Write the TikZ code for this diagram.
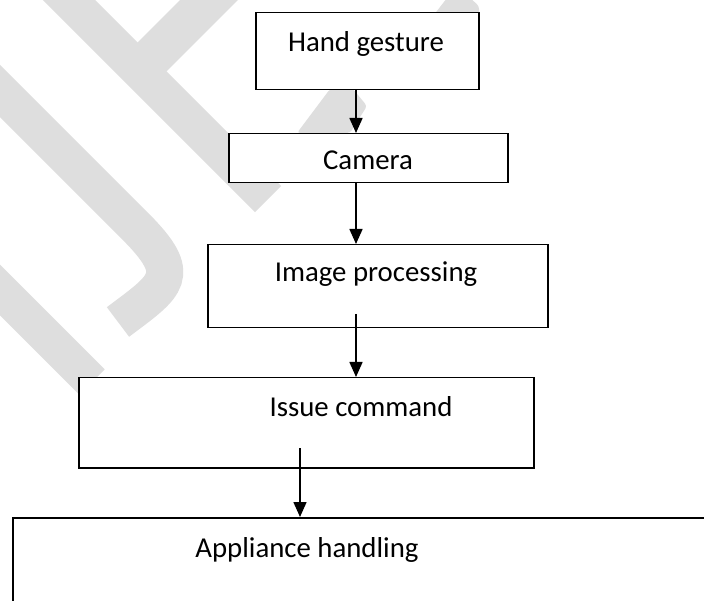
\documentclass[tikz,border=0pt]{standalone}
\usepackage{fontspec}
\setmainfont{Carlito}
\usetikzlibrary{arrows.meta}
\definecolor{wmgray}{RGB}{222,222,222}
\begin{document}
\begin{tikzpicture}[x=1pt,y=-1pt,
  box/.style={draw=black, line width=1.5pt, fill=white, inner sep=0pt, anchor=north west},
  lbl/.style={inner sep=0pt, anchor=base, font=\fontsize{28.8}{34}\selectfont},
  arr/.style={line width=1.6pt, -{Triangle[length=15pt,width=13pt]}},
  wm/.style={draw=wmgray, line width=37pt},
  wmfill/.style={fill=wmgray, rounded corners=3pt}]
\clip (0,0) rectangle (704,601);
\fill[white] (0,0) rectangle (704,601);
% watermark
\draw[wm] (-30,61) -- (135,226) .. controls (185,276) and (167,285) .. (118,322);
\draw[wm, line width=36pt] (-30,260) -- (92,382);
\draw[wm] (49,-20) -- (268,199);
\draw[wm, line width=41pt] (229,-20) -- (139,70);
\fill[wmfill] (430,20) -- (447,-2) -- (470,-2) -- (479,6) -- (479,20) -- cycle;
\fill[wmfill] (297,133) -- (330,89) -- (353,89) -- (367,106) -- (350,133) -- cycle;
% boxes
\node[box, minimum width=223pt, minimum height=77pt] (hand) at (255,12) {};
\node[box, minimum width=279pt, minimum height=49pt] (cam) at (228,133) {};
\node[box, minimum width=340pt, minimum height=83pt] (img) at (207,244) {};
\node[box, minimum width=455pt, minimum height=90pt] (iss) at (78,377) {};
\node[box, minimum width=720pt, minimum height=110pt] (app) at (12,517) {};
% labels
\node[lbl] (handt) at (366,52) {Hand gesture};
\node[lbl] (camt) at (368,170) {Camera};
\node[lbl] (imgt) at (376,282) {Image processing};
\node[lbl] (isst) at (361,417) {Issue command};
\node[lbl] (appt) at (307,557) {Appliance handling};
% connectors
\coordinate (x1) at (356,0);
\coordinate (s3) at (356,314);
\coordinate (s4) at (300,448);
\draw[arr] (hand.south -| x1) -- (cam.north -| x1);
\draw[arr] (cam.south -| x1) -- (img.north -| x1);
\draw[arr] (s3) -- (iss.north -| s3);
\draw[arr] (s4) -- (app.north -| s4);
\end{tikzpicture}
\end{document}
